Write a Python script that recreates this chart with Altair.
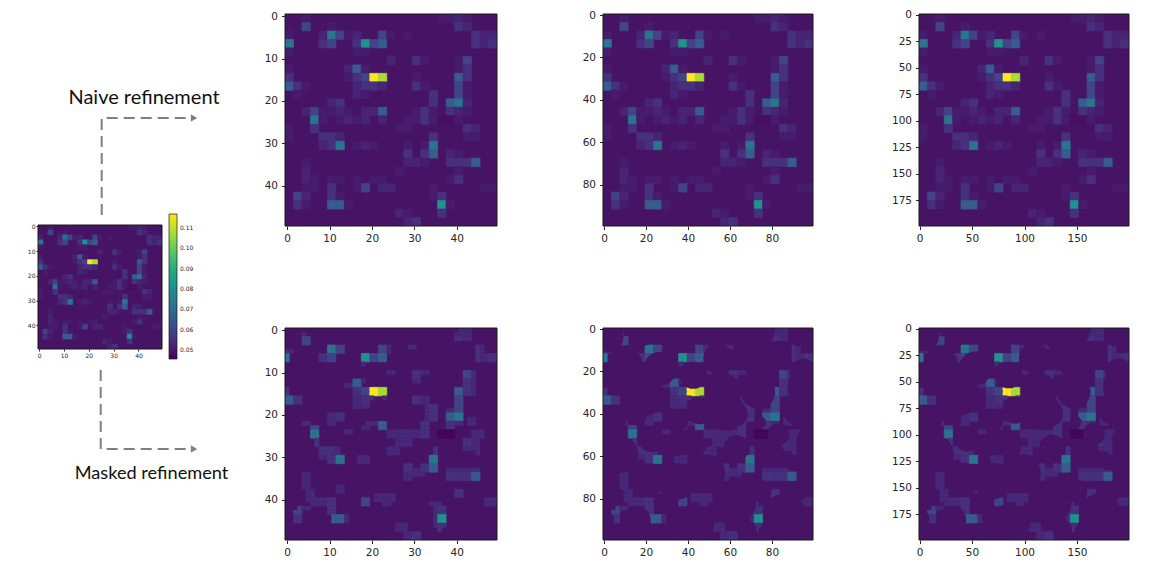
import altair as alt
import pandas as pd

LEVELS = {"0": 0.0465, ".": 0.0495, "a": 0.0507, "b": 0.0525, "c": 0.0555, "d": 0.060,
          "e": 0.066, "f": 0.073, "g": 0.082, "i": 0.108, "j": 0.1165}
UNMASKED_DARK = 0.048
MASK_FLOOR = [0.0535]

GRID = [
    "..a...............aaba...",
    "..d..a..............cb...",
    "a...bfdab..da.a.......cbb",
    "f...cd..cgde..........cbc",
    "a.......aa...............",
    "............b..ca...ad...",
    "a......bea..........ac...",
    "c......acdji...a....ec...",
    "eca.....bccb...ca...da...",
    ".a......ba.......c..da...",
    ".....bc..........c.efb...",
    "..bdaaba.bbe...aca.cba...",
    "...fa.abab.b..aaca00a....",
    "a..c.........aa......cb..",
    "a...ccb..........c...aa..",
    "....bcf.aba...a.af.......",
    "..............c.ce.ba....",
    "..a...........bba..ccce..",
    "..b..........a......a....",
    "..ba.aa.a.aa.......ac....",
    "..aa.c..ad.bb....a.....aa",
    ".db..ca..........ac......",
    ".ca..eea..........ga.....",
    ".............ba...c......",
    "..............bc.........",
]

# parts of the 50-cell masked panel that stay open (first/last column, first/last row)
OPEN_C0 = [4, 4, 41, 40, 29, 10, 8, 22, 18, 18, 0, 0, 45, 45, 24, 30, 30, 42, 40, 38, 14, 16, 16, 20, 20, 23,
           0, 0, 30, 33, 10, 10, 14, 4, 6, 7, 8, 10, 8, 19, 18, 22, 24, 32, 26, 24, 17, 34, 35, 42, 44, 45, 38,
           43, 28, 30, 32, 38, 40, 40, 4, 5, 6, 3, 2, 10, 11, 12, 18, 21, 23, 47, 34, 35, 36, 26, 28, 36]
OPEN_C1 = [5, 4, 43, 43, 30, 13, 11, 24, 23, 18, 0, 1, 46, 49, 25, 33, 31, 44, 41, 41, 17, 18, 19, 23, 20, 23,
           0, 3, 33, 35, 13, 11, 15, 5, 7, 7, 12, 13, 9, 21, 19, 23, 33, 33, 29, 26, 19, 35, 35, 45, 46, 45, 39,
           44, 29, 32, 34, 45, 44, 41, 5, 6, 9, 5, 3, 11, 14, 13, 19, 25, 24, 49, 36, 36, 36, 28, 31, 37]
OPEN_R0 = [2, 1, 0, 1, 4, 4, 6, 4, 6, 8, 5, 5, 4, 6, 10, 10, 11, 10, 14, 19, 13, 12, 14, 14, 16, 16,
           14, 16, 16, 18, 20, 22, 24, 22, 23, 26, 28, 30, 30, 22, 23, 22, 24, 22, 26, 28, 30, 30, 28, 26, 24, 29, 22,
           21, 32, 33, 32, 33, 34, 38, 34, 38, 40, 42, 43, 40, 44, 37, 40, 39, 41, 40, 41, 42, 47, 46, 48, 42]
OPEN_R1 = [3, 1, 0, 2, 4, 5, 7, 5, 7, 8, 7, 5, 5, 7, 10, 10, 12, 15, 19, 22, 13, 12, 18, 15, 16, 16,
           17, 17, 17, 21, 21, 22, 24, 22, 25, 27, 29, 31, 30, 22, 23, 23, 25, 23, 27, 29, 31, 33, 29, 28, 25, 29, 23,
           22, 35, 34, 33, 35, 35, 39, 37, 40, 41, 42, 45, 43, 45, 38, 41, 40, 41, 41, 41, 46, 47, 47, 49, 46]

DISC_X = [35, 135, 205, 290, 370, 450, 500, 610, 640, 88, 20, 190, 145, 290, 365, 385, 485, 470, 520, 635, 620,
          545, 35, 120, 240, 310, 390, 415, 490, 545, 600, 640, 165, 235, 295, 420, 525, 590, 640, 70, 15, 330,
          240, 155, 35, 120, 205, 290, 205, 420, 450, 495, 565, 600, 640, 530, 625, 20, 75]
DISC_Y = [45, 35, 25, 30, 30, 45, 35, 40, 25, 125, 160, 140, 225, 160, 110, 205, 210, 110, 110, 195, 150,
          105, 300, 275, 295, 265, 270, 275, 300, 335, 265, 350, 350, 365, 365, 375, 385, 420, 440, 395, 420,
          450, 475, 470, 520, 590, 545, 605, 630, 540, 620, 500, 570, 505, 590, 625, 640, 590, 630]
DISC_R = [45, 38, 45, 38, 35, 50, 32, 35, 25, 48, 38, 50, 55, 40, 45, 50, 50, 45, 25, 62, 40,
          35, 52, 30, 33, 40, 55, 38, 18, 33, 42, 40, 38, 35, 35, 38, 35, 25, 40, 55, 50,
          55, 55, 50, 37, 42, 28, 62, 30, 58, 30, 30, 60, 30, 40, 40, 30, 32, 25]
READ_ORIGIN = 22
READ_PER_CELL = 6.3

TICK50 = [0, 10, 20, 30, 40]
TICK100 = [0, 20, 40, 60, 80]
TICK200X = [0, 50, 100, 150]
TICK200Y = [0, 25, 50, 75, 100, 125, 150, 175]
COLORBAR = [0.05, 0.06, 0.07, 0.08, 0.09, 0.10, 0.11]
NAIVE_LABEL = "Naive refinement"
MASKED_LABEL = "Masked refinement"

CDOM = [0.0456, 0.1169]
INK = "#262626"
GREY = "#7f7f7f"
FONT = "DejaVu Sans"
BASE_FILL = "#471365"


def cells(scale):
    rows = []
    for r, line in enumerate(GRID):
        for c, ch in enumerate(line):
            if ch == ".":
                continue
            rows.append({
                "x": 2 * c * scale - 0.5, "x2": 2 * (c + 1) * scale - 0.5,
                "y": 2 * r * scale - 0.5, "y2": 2 * (r + 1) * scale - 0.5,
                "v": UNMASKED_DARK if ch == "0" else LEVELS[ch],
            })
    return pd.DataFrame(rows)


def open_cells(scale):
    seen = set()
    for c0, c1, r0, r1 in zip(OPEN_C0, OPEN_C1, OPEN_R0, OPEN_R1):
        for r in range(r0, r1 + 1):
            for c in range(c0, c1 + 1):
                seen.add((r, c))
    # the dark block of the grid stays visible through the mask
    seen.update({(24, 36), (24, 37), (25, 36), (25, 37), (24, 38), (24, 39), (25, 38), (25, 39)})
    rows = []
    for r, c in sorted(seen):
        ch = GRID[r // 2][c // 2]
        v = LEVELS[ch] if ch == "0" else max(LEVELS[ch], MASK_FLOOR[0])
        rows.append({"x": c * scale - 0.5, "x2": (c + 1) * scale - 0.5,
                     "y": r * scale - 0.5, "y2": (r + 1) * scale - 0.5, "v": v})
    return pd.DataFrame(rows)


def panel(scale, w, h, xticks, yticks, masked=False, discs=False, fs=10.5, ts=3.5, pad=4, legend=None):
    n = 50 * scale
    xs = alt.Scale(domain=[-0.5, n - 0.5], nice=False, zero=False)
    ys = alt.Scale(domain=[n - 0.5, -0.5], nice=False, zero=False)
    ax = dict(grid=False, domain=False, tickColor=INK, tickSize=ts, labelFontSize=fs,
              labelFont=FONT, labelColor=INK, title=None, labelPadding=pad, labelFlush=False,
              labelOverlap=False)
    xe = alt.X("x:Q", scale=xs, axis=alt.Axis(values=xticks, **ax))
    ye = alt.Y("y:Q", scale=ys, axis=alt.Axis(values=yticks, **ax))
    col = alt.Color("v:Q", scale=alt.Scale(scheme="viridis", domain=CDOM), legend=legend)
    edge = alt.Stroke("v:Q", scale=alt.Scale(scheme="viridis", domain=CDOM), legend=None)
    whole = pd.DataFrame({"x": [-0.5], "x2": [n - 0.5], "y": [-0.5], "y2": [n - 0.5]})
    data = open_cells(scale) if masked else cells(scale)
    layers = [alt.Chart(data).mark_rect(strokeWidth=0.7, clip=True).encode(
        x=xe, x2="x2:Q", y=ye, y2="y2:Q", color=col, stroke=edge)]
    if discs:
        df = pd.DataFrame({"px": DISC_X, "py": DISC_Y, "pr": DISC_R})
        df["x"] = (df["px"] - READ_ORIGIN) / READ_PER_CELL * scale / 2
        df["y"] = (df["py"] - READ_ORIGIN) / READ_PER_CELL * scale / 2
        df["a"] = (df["pr"] / READ_PER_CELL) ** 2
        ppu = w / 100
        layers.append(alt.Chart(df[["x", "y", "a"]]).mark_circle(clip=True, opacity=1, color=BASE_FILL).encode(
            x=xe, y=ye,
            size=alt.Size("a:Q", legend=None,
                          scale=alt.Scale(domain=[0, 100], range=[0, 400 * ppu * ppu])),
        ))
    layers.append(alt.Chart(whole).mark_rect(
        fill=None, stroke="#1a1a1a", strokeWidth=1, opacity=1
    ).encode(x=xe, x2="x2:Q", y=ye, y2="y2:Q"))
    return alt.layer(*layers).resolve_scale(size="independent").properties(
        width=w, height=h, view=alt.ViewBackground(fill=BASE_FILL, stroke=None))


def spacer(w, h):
    return alt.Chart(pd.DataFrame({"x": [0]})).mark_point(opacity=0).encode(
        x=alt.value(0)).properties(width=w, height=h, view=alt.ViewBackground(stroke=None))


def annotation(h, label, lx, ly, size, path):
    sx = alt.Scale(domain=[0, 124], nice=False, zero=False)
    sy = alt.Scale(domain=[h, 0], nice=False, zero=False)
    p = pd.DataFrame(path, columns=["x", "y"]).assign(o=range(len(path)))
    line = alt.Chart(p).mark_line(color=GREY, strokeWidth=2, strokeDash=[11, 6]).encode(
        x=alt.X("x:Q", scale=sx, axis=None), y=alt.Y("y:Q", scale=sy, axis=None), order="o:Q")
    head = alt.Chart(p.tail(1)).mark_point(shape="triangle-right", filled=True, color=GREY, size=55, opacity=1).encode(
        x=alt.X("x:Q", scale=sx, axis=None), y=alt.Y("y:Q", scale=sy, axis=None))
    text = alt.Chart(pd.DataFrame({"x": [lx], "y": [ly], "t": [label]})).mark_text(
        font="Lato", fontSize=size, color="#111111", align="center", baseline="middle").encode(
        x=alt.X("x:Q", scale=sx, axis=None), y=alt.Y("y:Q", scale=sy, axis=None), text="t:N")
    return alt.layer(line, head, text).properties(width=124, height=h, view=alt.ViewBackground(stroke=None))


small_legend = alt.Legend(orient="none", legendX=131, legendY=-11, gradientLength=145, gradientThickness=8,
                          gradientStrokeColor="#1a1a1a", gradientStrokeWidth=0.7, title=None, values=COLORBAR,
                          labelFontSize=6, labelFont=FONT, labelColor=INK, labelOffset=3, format=".2f",
                          direction="vertical", labelOverlap=False)

left = alt.vconcat(
    annotation(216, NAIVE_LABEL, 106, 89, 20, [[63.7, 206], [63.7, 109], [156, 109]]),
    panel(1, 124, 124, TICK50, TICK50, fs=6, ts=2, pad=1, legend=small_legend),
    annotation(140, MASKED_LABEL, 113.5, 125, 18.2, [[62.7, 21], [62.7, 100], [156, 100]]),
    spacing=0, bounds="flush",
).resolve_scale(color="independent")


def column(scale, w, xt, yt, discs=True):
    return alt.vconcat(
        spacer(w, 5),
        panel(scale, w, 212, xt, yt),
        spacer(w, 102),
        panel(scale, w, 212, xt, yt, masked=True, discs=discs),
        spacing=0, bounds="flush",
    ).resolve_scale(color="independent")


chart = alt.hconcat(
    spacer(16, 5),
    left,
    spacer(32, 5),
    column(1, 212, TICK50, TICK50, discs=False),
    spacer(81, 5),
    column(2, 210, TICK100, TICK100),
    spacer(74, 5),
    column(4, 210, TICK200X, TICK200Y),
    spacing=0,
).resolve_scale(color="independent").properties(padding=0, background="white")

chart.save("out.html", embed_options={"renderer": "svg", "actions": False})
